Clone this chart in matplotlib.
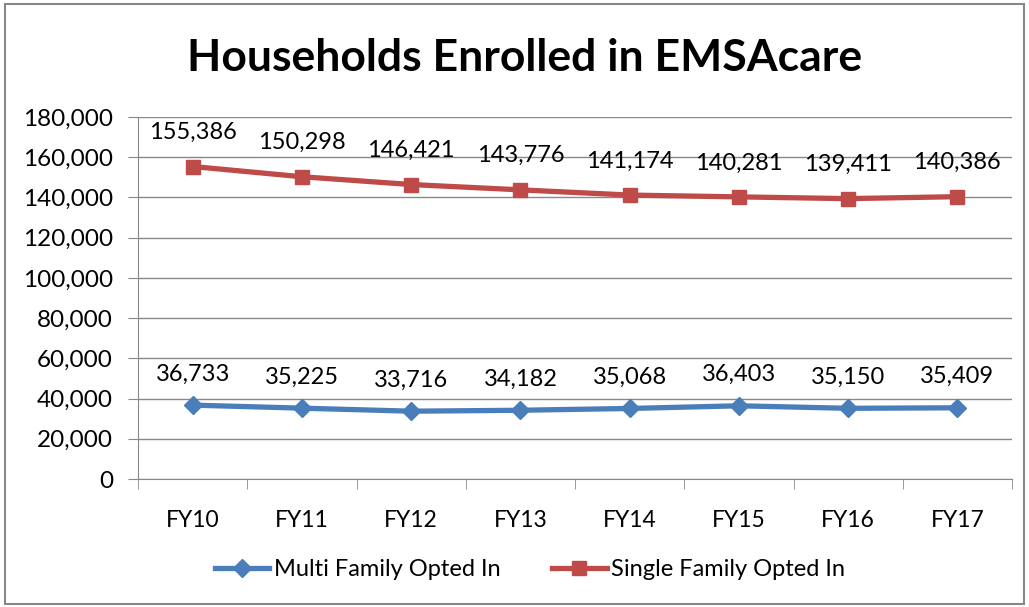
import matplotlib.pyplot as plt
from matplotlib.patches import Rectangle

years = ["FY10", "FY11", "FY12", "FY13", "FY14", "FY15", "FY16", "FY17"]
multi_family = [36733, 35225, 33716, 34182, 35068, 36403, 35150, 35409]
single_family = [155386, 150298, 146421, 143776, 141174, 140281, 139411, 140386]

plt.rcParams["font.family"] = ["Lato", "DejaVu Sans"]

fig = plt.figure(figsize=(10.29, 6.07), dpi=100)
ax = fig.add_axes([138 / 1029, 1 - 479 / 607, (1012 - 138) / 1029, (479 - 117) / 607])

x = list(range(len(years)))
blue = "#4A7EBB"
red = "#BE4B48"

ax.plot(x, multi_family, color=blue, lw=3.8, marker="D", ms=9,
        label="Multi Family Opted In", zorder=3)
ax.plot(x, single_family, color=red, lw=3.8, marker="s", ms=10,
        label="Single Family Opted In", zorder=3)

for xi, v in zip(x, multi_family):
    ax.annotate(f"{v:,}", (xi, v), xytext=(0, 22.5), textcoords="offset points",
                ha="center", va="center", fontsize=17)
for xi, v in zip(x, single_family):
    ax.annotate(f"{v:,}", (xi, v), xytext=(0, 24.5), textcoords="offset points",
                ha="center", va="center", fontsize=17)

ax.set_xlim(-0.5, len(years) - 0.5)
ax.set_ylim(0, 180000)
ax.set_yticks(range(0, 180001, 20000))
ax.set_yticklabels([f"{v:,}" for v in range(0, 180001, 20000)])
ax.set_xticks(x)
ax.set_xticklabels(years)
ax.set_xticks([i - 0.5 for i in range(len(years) + 1)], minor=True)
ax.tick_params(axis="x", which="major", length=0, pad=22, labelsize=16.5)
ax.tick_params(axis="x", which="minor", length=7, color="#888888")
ax.tick_params(axis="y", length=7, color="#888888", labelsize=17.5, pad=11)

ax.grid(axis="y", color="#888888", lw=1)
ax.set_axisbelow(True)
for s in ["top", "right"]:
    ax.spines[s].set_visible(False)
for s in ["left", "bottom"]:
    ax.spines[s].set_color("#888888")

fig.text(0.51, 1 - 58 / 607, "Households Enrolled in EMSAcare", ha="center",
         va="center", fontsize=32, fontweight="bold")

fig.legend(loc="center", bbox_to_anchor=(0.515, 1 - 570 / 607), ncol=2,
           frameon=False, fontsize=17, handlelength=2.3, handletextpad=0.2,
           columnspacing=2.2)

fig.patches.append(Rectangle((5 / 1029, 3 / 607), 1019 / 1029, 600 / 607,
                             transform=fig.transFigure, fill=False,
                             edgecolor="#888888", lw=1.5))

fig.savefig("out.png", dpi=100)
